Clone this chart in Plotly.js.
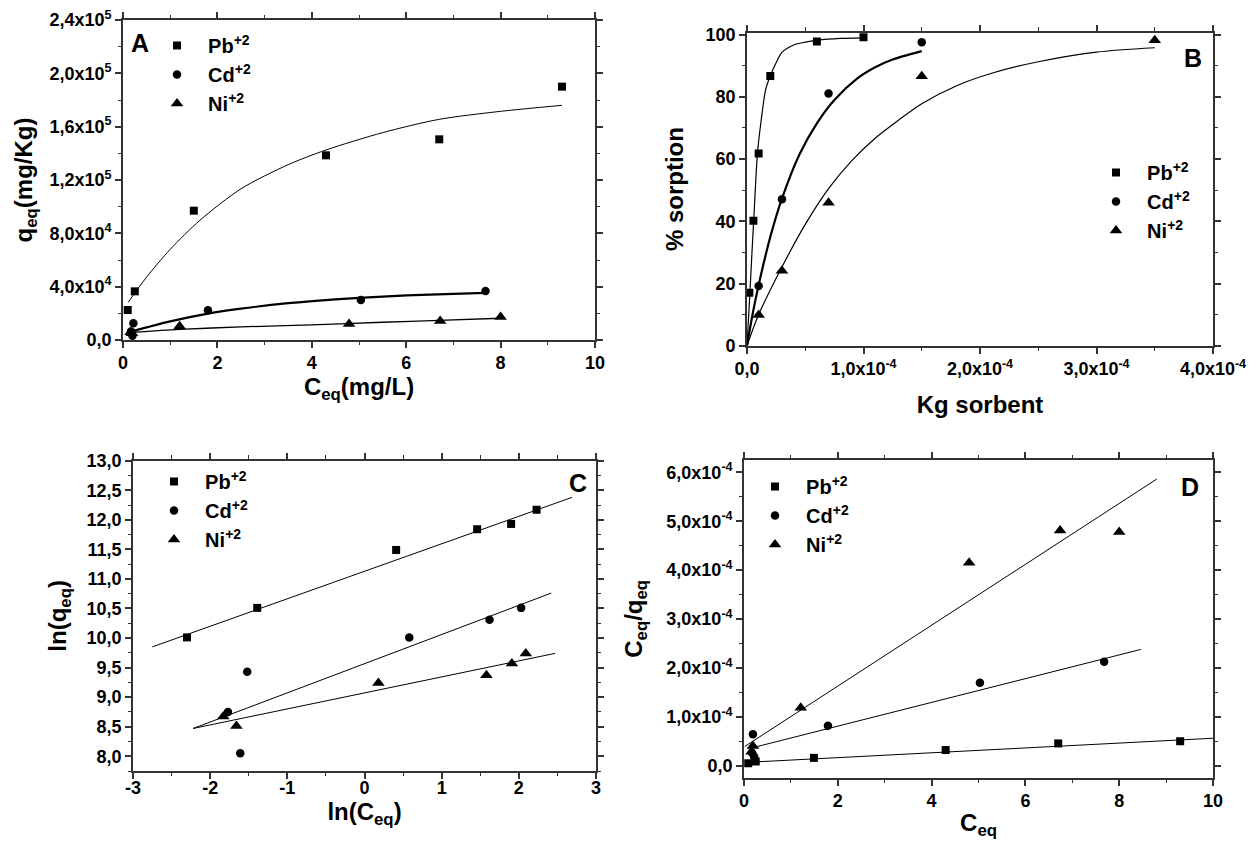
<!DOCTYPE html>
<html>
<head>
<meta charset="utf-8">
<script src="https://cdn.plot.ly/plotly-3.0.1.min.js"></script>
<style>html,body{margin:0;padding:0;background:#fff;}#chart{width:1260px;height:847px;}</style>
</head>
<body>
<div id="chart"></div>
<script>
// ---------- DATA ----------
const ionNames = ['Pb<sup>+2</sup>', 'Cd<sup>+2</sup>', 'Ni<sup>+2</sup>'];

// Panel A : q_eq vs C_eq
const A_Pb_C = [0.1, 0.25, 1.5, 4.3, 6.7, 9.3];
const A_Pb_q = [22500, 36500, 97000, 138500, 150500, 190000];
const A_Cd_C = [0.17, 0.2, 0.22, 1.8, 5.04, 7.68];
const A_Cd_q = [6300, 3200, 12600, 22300, 30000, 36800];
const A_Ni_C = [0.16, 0.19, 1.2, 4.79, 6.72, 8.0];
const A_Ni_q = [5800, 5000, 10300, 12000, 14300, 17200];
const A_Pb_fitC = [0.11, 0.5, 1, 1.63, 2.5, 3.5, 4.3, 5.5, 6.7, 8, 9.3];
const A_Pb_fitq = [28300, 47200, 68000, 89800, 113400, 131500, 142500, 155500, 165500, 171500, 176000];
const A_Cd_fitC = [0.2, 0.5, 1, 1.8, 2.5, 3.5, 4.5, 5.5, 6.5, 7.68];
const A_Cd_fitq = [6700, 9500, 14000, 19800, 23500, 27600, 30500, 32600, 34100, 35300];
const A_Ni_fitC = [0.2, 1.2, 2.5, 4, 5.5, 6.7, 8.0];
const A_Ni_fitq = [5800, 8000, 9800, 11400, 13300, 14700, 16300];

// Panel B : % sorption vs Kg sorbent
const B_Pb_kg = [0.2e-5, 0.55e-5, 1.0e-5, 2.0e-5, 6.0e-5, 1.0e-4];
const B_Pb_pct = [17, 40.2, 61.8, 86.7, 97.8, 99.2];
const B_Cd_kg = [1e-5, 3e-5, 7e-5, 1.5e-4];
const B_Cd_pct = [19.2, 47.1, 81.1, 97.6];
const B_Ni_kg = [1e-5, 3e-5, 7e-5, 1.5e-4, 3.5e-4];
const B_Ni_pct = [9.9, 24.1, 46, 86.6, 98.2];
const B_Pb_fitkg = [0, 0.2e-5, 0.4e-5, 0.6e-5, 0.9e-5, 1.2e-5, 1.6e-5, 2.0e-5, 2.5e-5, 3.0e-5, 4.0e-5, 5.0e-5, 6.0e-5, 8.0e-5, 1.0e-4];
const B_Pb_fitpct = [0, 13.5, 28, 42, 62, 72, 82.3, 86.8, 91, 94.3, 96.7, 97.6, 98.2, 98.8, 99];
const B_Cd_fitkg = [0, 0.5e-5, 1e-5, 2e-5, 3e-5, 4.5e-5, 6e-5, 7.5e-5, 9.5e-5, 1.1e-4, 1.25e-4, 1.5e-4];
const B_Cd_fitpct = [0, 10.5, 19.5, 35, 47.3, 61.5, 71.5, 79, 86, 89.5, 92, 94.7];
const B_Ni_fitkg = [0, 1e-5, 3e-5, 5e-5, 7e-5, 9e-5, 1.1e-4, 1.3e-4, 1.5e-4, 1.8e-4, 2.1e-4, 2.5e-4, 3.0e-4, 3.5e-4];
const B_Ni_fitpct = [0, 10, 25.3, 39, 50.5, 59.5, 66.7, 72.5, 77.8, 83.6, 87.6, 91.3, 94.4, 95.8];

// Panel C : ln(q_eq) vs ln(C_eq)
const C_Pb_x = [-2.30, -1.39, 0.41, 1.46, 1.90, 2.23];
const C_Pb_y = [10.01, 10.51, 11.49, 11.84, 11.93, 12.17];
const C_Cd_x = [-1.77, -1.52, -1.61, 0.58, 1.62, 2.03];
const C_Cd_y = [8.75, 9.43, 8.05, 10.01, 10.31, 10.51];
const C_Ni_x = [-1.83, -1.66, 0.18, 1.58, 1.91, 2.09];
const C_Ni_y = [8.67, 8.51, 9.24, 9.37, 9.57, 9.74];
const C_Pb_fitx = [-2.75, 2.69], C_Pb_fity = [9.85, 12.38];
const C_Cd_fitx = [-2.22, 2.42], C_Cd_fity = [8.47, 10.76];
const C_Ni_fitx = [-2.22, 2.47], C_Ni_fity = [8.47, 9.74];

// Panel D : C_eq/q_eq vs C_eq
const D_Pb_x = [0.09, 0.25, 1.49, 4.3, 6.7, 9.3];
const D_Pb_y = [0.55e-5, 0.9e-5, 1.65e-5, 3.25e-5, 4.6e-5, 5.05e-5];
const D_Cd_x = [0.17, 0.19, 0.22, 1.79, 5.03, 7.68];
const D_Cd_y = [2.7e-5, 6.5e-5, 1.75e-5, 8.2e-5, 1.70e-4, 2.13e-4];
const D_Ni_x = [0.16, 0.19, 1.21, 4.8, 6.74, 8.0];
const D_Ni_y = [2.9e-5, 4.1e-5, 1.19e-4, 4.15e-4, 4.81e-4, 4.78e-4];
const D_Pb_fitx = [0.09, 10], D_Pb_fity = [0.75e-5, 5.66e-5];
const D_Cd_fitx = [0.13, 8.46], D_Cd_fity = [3.6e-5, 2.38e-4];
const D_Ni_fitx = [0.02, 8.8], D_Ni_fity = [4.0e-5, 5.86e-4];

// Tick labels
const A_yvals = [0, 40000, 80000, 120000, 160000, 200000, 240000];
const A_ytext = ['0,0', '4,0x10<sup>4</sup>', '8,0x10<sup>4</sup>', '1,2x10<sup>5</sup>', '1,6x10<sup>5</sup>', '2,0x10<sup>5</sup>', '2,4x10<sup>5</sup>'];
const A_xvals = [0, 2, 4, 6, 8, 10];
const A_xtext = ['0', '2', '4', '6', '8', '10'];
const B_xvals = [0, 1e-4, 2e-4, 3e-4, 4e-4];
const B_xtext = ['0,0', '1,0x10<sup>-4</sup>', '2,0x10<sup>-4</sup>', '3,0x10<sup>-4</sup>', '4,0x10<sup>-4</sup>'];
const B_yvals = [0, 20, 40, 60, 80, 100];
const B_ytext = ['0', '20', '40', '60', '80', '100'];
const C_xvals = [-3, -2, -1, 0, 1, 2, 3];
const C_xtext = ['-3', '-2', '-1', '0', '1', '2', '3'];
const C_yvals = [8.0, 8.5, 9.0, 9.5, 10.0, 10.5, 11.0, 11.5, 12.0, 12.5, 13.0];
const C_ytext = ['8,0', '8,5', '9,0', '9,5', '10,0', '10,5', '11,0', '11,5', '12,0', '12,5', '13,0'];
const D_xvals = [0, 2, 4, 6, 8, 10];
const D_xtext = ['0', '2', '4', '6', '8', '10'];
const D_yvals = [0, 1e-4, 2e-4, 3e-4, 4e-4, 5e-4, 6e-4];
const D_ytext = ['0,0', '1,0x10<sup>-4</sup>', '2,0x10<sup>-4</sup>', '3,0x10<sup>-4</sup>', '4,0x10<sup>-4</sup>', '5,0x10<sup>-4</sup>', '6,0x10<sup>-4</sup>'];

// ---------- STYLE ----------
const FONT = 'Liberation Sans, Arial, Helvetica, sans-serif';
const W = 1260, H = 847;
const AX = '#333333';
function dX(a, b) { return [a / W, b / W]; }
function dY(top, bottom) { return [1 - bottom / H, 1 - top / H]; }
function bold(arr) { return arr.map(function (s) { return '<b>' + s + '</b>'; }); }

const symbols = ['square', 'circle', 'triangle-up'];
const msizes = [8, 8.5, 11];

function pts(x, y, i, xa, ya, leg) {
  return { x: x, y: y, type: 'scatter', mode: 'markers', name: '<b>\u00a0\u00a0' + ionNames[i] + '</b>',
    xaxis: xa, yaxis: ya, legend: leg, showlegend: true,
    marker: { symbol: symbols[i], size: msizes[i], color: '#000', line: { width: 0 } },
    hoverinfo: 'skip' };
}
function fit(x, y, xa, ya, w, smooth) {
  return { x: x, y: y, type: 'scatter', mode: 'lines', xaxis: xa, yaxis: ya, showlegend: false,
    line: { color: '#000', width: w, shape: smooth ? 'spline' : 'linear', smoothing: 0.8 }, hoverinfo: 'skip' };
}

function axis(domain, range, vals, text, minorDtick, title, standoff, anchor, labelShift) {
  return {
    domain: domain, range: range, anchor: anchor, autorange: false,
    tickmode: 'array', tickvals: vals, ticktext: bold(text),
    showline: true, linecolor: AX, linewidth: 1.6, mirror: 'ticks',
    ticks: 'outside', ticklen: 6, tickwidth: 1.5, tickcolor: AX,
    ticklabelstandoff: labelShift || 0,
    minor: { dtick: minorDtick, tick0: 0, ticks: 'outside', ticklen: 3.5, tickwidth: 1.2, tickcolor: AX, showgrid: false },
    showgrid: false, zeroline: false, automargin: false,
    tickfont: { family: FONT, size: 18, color: '#000', weight: 'bold' },
    title: { text: '<b>' + title + '</b>', standoff: standoff, font: { family: FONT, size: 24, color: '#000', weight: 'bold' } }
  };
}

const traces = [
  // A
  fit(A_Pb_fitC, A_Pb_fitq, 'x', 'y', 1, true),
  fit(A_Cd_fitC, A_Cd_fitq, 'x', 'y', 2.2, true),
  fit(A_Ni_fitC, A_Ni_fitq, 'x', 'y', 1.3, true),
  pts(A_Pb_C, A_Pb_q, 0, 'x', 'y', 'legend'),
  pts(A_Cd_C, A_Cd_q, 1, 'x', 'y', 'legend'),
  pts(A_Ni_C, A_Ni_q, 2, 'x', 'y', 'legend'),
  // B
  fit(B_Pb_fitkg, B_Pb_fitpct, 'x2', 'y2', 1.2, true),
  fit(B_Cd_fitkg, B_Cd_fitpct, 'x2', 'y2', 2.2, true),
  fit(B_Ni_fitkg, B_Ni_fitpct, 'x2', 'y2', 1.2, true),
  pts(B_Pb_kg, B_Pb_pct, 0, 'x2', 'y2', 'legend2'),
  pts(B_Cd_kg, B_Cd_pct, 1, 'x2', 'y2', 'legend2'),
  pts(B_Ni_kg, B_Ni_pct, 2, 'x2', 'y2', 'legend2'),
  // C
  fit(C_Pb_fitx, C_Pb_fity, 'x3', 'y3', 1, false),
  fit(C_Cd_fitx, C_Cd_fity, 'x3', 'y3', 1, false),
  fit(C_Ni_fitx, C_Ni_fity, 'x3', 'y3', 1, false),
  pts(C_Pb_x, C_Pb_y, 0, 'x3', 'y3', 'legend3'),
  pts(C_Cd_x, C_Cd_y, 1, 'x3', 'y3', 'legend3'),
  pts(C_Ni_x, C_Ni_y, 2, 'x3', 'y3', 'legend3'),
  // D
  fit(D_Pb_fitx, D_Pb_fity, 'x4', 'y4', 1, false),
  fit(D_Cd_fitx, D_Cd_fity, 'x4', 'y4', 1, false),
  fit(D_Ni_fitx, D_Ni_fity, 'x4', 'y4', 1, false),
  pts(D_Pb_x, D_Pb_y, 0, 'x4', 'y4', 'legend4'),
  pts(D_Cd_x, D_Cd_y, 1, 'x4', 'y4', 'legend4'),
  pts(D_Ni_x, D_Ni_y, 2, 'x4', 'y4', 'legend4')
];

function legendAt(px, py) {
  return { x: px / W, y: 1 - py / H, xanchor: 'left', yanchor: 'top',
    bgcolor: 'rgba(0,0,0,0)', borderwidth: 0, itemwidth: 30, tracegroupgap: 0,
    font: { family: FONT, size: 20, color: '#000', weight: 'bold' }, itemclick: false, itemdoubleclick: false };
}
function letter(t, px, py) {
  return { text: '<b>' + t + '</b>', x: px / W, y: 1 - py / H, xref: 'paper', yref: 'paper', showarrow: false,
    xanchor: 'center', yanchor: 'middle', font: { family: FONT, size: 25, color: '#000', weight: 'bold' } };
}

const layout = {
  width: W, height: H, margin: { l: 0, r: 0, t: 0, b: 0 },
  paper_bgcolor: '#fff', plot_bgcolor: '#fff', hovermode: false,
  font: { family: FONT, size: 18, color: '#000', weight: 'bold' },
  xaxis:  axis(dX(123, 595), [0, 10], A_xvals, A_xtext, 1, 'C<sub>eq</sub>(mg/L)', 0, 'y'),
  yaxis:  axis(dY(20, 340), [0, 240000], A_yvals, A_ytext, 20000, 'q<sub>eq</sub>(mg/Kg)', 10, 'x'),
  xaxis2: axis(dX(747, 1213), [0, 4e-4], B_xvals, B_xtext, 0.5e-4, 'Kg sorbent', 18, 'y2'),
  yaxis2: axis(dY(32.5, 345.7), [0, 100.7], B_yvals, B_ytext, 10, '% sorption', 15, 'x2'),
  xaxis3: axis(dX(133, 596), [-3, 3], C_xvals, C_xtext, 0.5, 'ln(C<sub>eq</sub>)', 0, 'y3', -6),
  yaxis3: axis(dY(460.7, 771), [7.75, 13.0], C_yvals, C_ytext, 0.25, 'ln(q<sub>eq</sub>)', 13, 'x3'),
  xaxis4: axis(dX(744, 1213), [0, 10], D_xvals, D_xtext, 1, 'C<sub>eq</sub>', 4, 'y4'),
  yaxis4: axis(dY(460, 777.7), [-2.4e-5, 6.25e-4], D_yvals, D_ytext, 0.5e-4, 'C<sub>eq</sub>/q<sub>eq</sub>', 17, 'x4'),
  legend:  legendAt(157, 26),
  legend2: legendAt(1096, 153),
  legend3: legendAt(154, 462),
  legend4: legendAt(755, 467),
  annotations: [letter('A', 140, 43), letter('B', 1193, 58), letter('C', 578, 483), letter('D', 1190, 487)]
};

Plotly.newPlot('chart', traces, layout, { displayModeBar: false });
</script>
</body>
</html>
